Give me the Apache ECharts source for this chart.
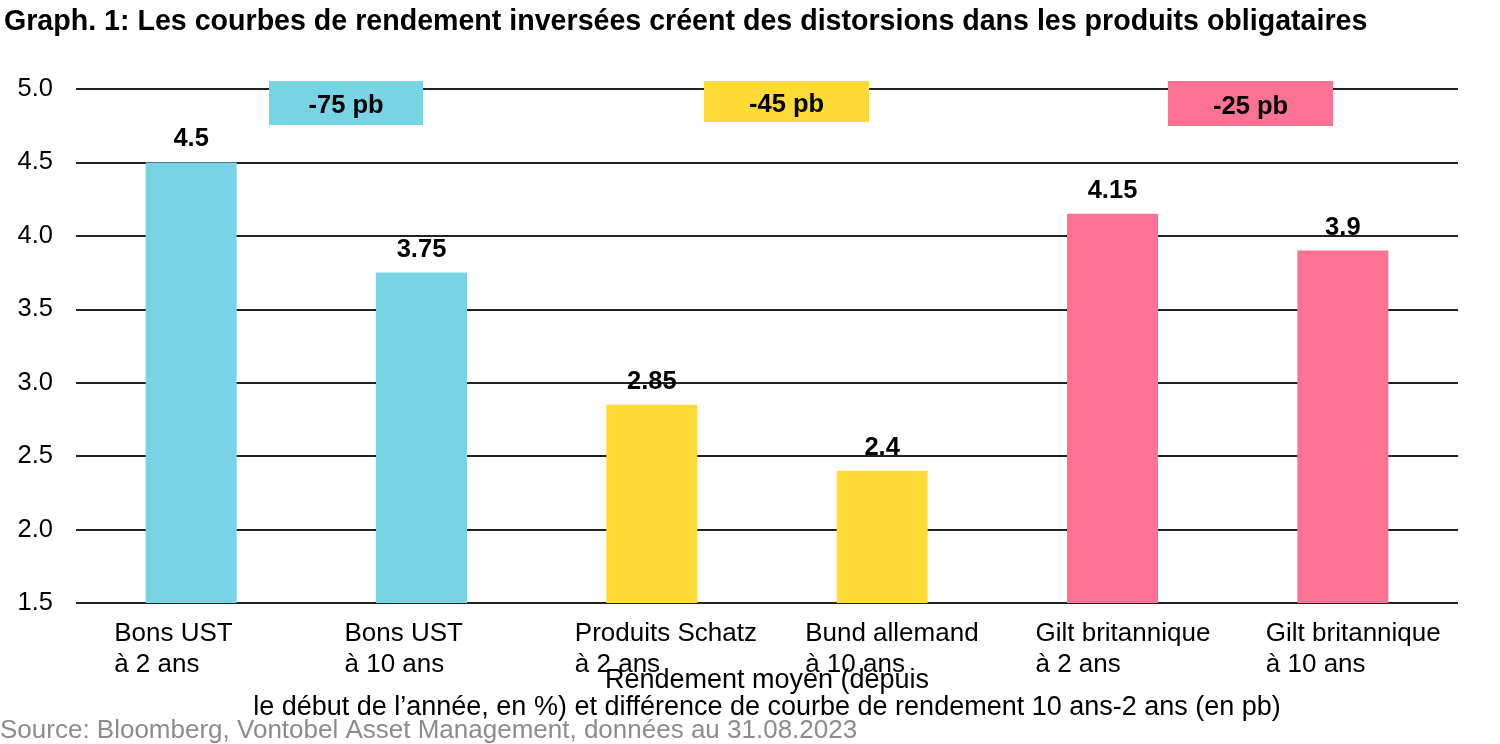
<!DOCTYPE html>
<html><head><meta charset="utf-8">
<script src="https://cdn.jsdelivr.net/npm/echarts@6/dist/echarts.min.js"></script>
<style>html,body{margin:0;padding:0;background:#fff}#c{width:1500px;height:744px}</style>
</head><body><div id="c"></div>
<script>
const categories = ["Bons UST\nà 2 ans","Bons UST\nà 10 ans","Produits Schatz\nà 2 ans","Bund allemand\nà 10 ans","Gilt britannique\nà 2 ans","Gilt britannique\nà 10 ans"];
const values = [4.5, 3.75, 2.85, 2.4, 4.15, 3.9];
const barColors = ["#78D3E5","#78D3E5","#FDDA36","#FDDA36","#FC7293","#FC7293"];
const spreadLabels = ["-75 pb","-45 pb","-25 pb"];
const spreadColors = ["#78D3E5","#FDDA36","#FC7293"];
const yTicks = [1.5, 2.0, 2.5, 3.0, 3.5, 4.0, 4.5, 5.0];

const FONT = "Liberation Sans, Arial, sans-serif";
const chart = echarts.init(document.getElementById('c'));

const boxes = [
  {x:269, y:81, w:154, h:44},
  {x:704, y:81, w:165, h:41},
  {x:1168, y:81, w:165, h:45}
];
const graphic = [];
boxes.forEach((b,i)=>{
  graphic.push({type:'rect', left:b.x, top:b.y, shape:{width:b.w, height:b.h}, style:{fill:spreadColors[i]}, z:10});
  graphic.push({type:'text', x:b.x+b.w/2, y:b.y+b.h/2+3, style:{text:spreadLabels[i], font:'bold 25.5px '+FONT, fill:'#000', textAlign:'center', textVerticalAlign:'middle'}, z:11});
});

chart.setOption({
  animation:false,
  textStyle:{fontFamily:FONT},
  title:[
    {text:"Graph. 1: Les courbes de rendement inversées créent des distorsions dans les produits obligataires", left:4, top:8, padding:0,
     textStyle:{fontSize:28.6, fontWeight:'bold', color:'#000', fontFamily:FONT}},
    {text:"Source: Bloomberg, Vontobel Asset Management, données au 31.08.2023", left:0, top:718, padding:0,
     textStyle:{fontSize:26, fontWeight:'normal', color:'#8c8c8c', fontFamily:FONT}}
  ],
  grid:{left:76, right:42, top:89, bottom:141, containLabel:false},
  xAxis:{
    type:'category', data:categories,
    axisLine:{show:false}, axisTick:{show:false},
    axisLabel:{interval:0, margin:15, color:'#000', fontSize:26, align:'center',
      formatter:(v)=>v.split('\n').map(l=>'{a|'+l+'}').join('\n'),
      rich:{a:{width:154, align:'left', fontSize:26, lineHeight:31, color:'#000', fontFamily:FONT}}},
    name:"Rendement moyen (depuis\nle début de l’année, en %) et différence de courbe de rendement 10 ans-2 ans (en pb)",
    nameLocation:'middle', nameGap:64, nameMoveOverlap:false,
    nameTextStyle:{fontSize:27, color:'#000', lineHeight:27, align:'center', fontFamily:FONT}
  },
  yAxis:{
    type:'value', min:1.5, max:5.0, interval:0.5,
    axisLine:{show:false}, axisTick:{show:false},
    axisLabel:{margin:23, color:'#000', fontSize:25.5, formatter:(v)=>v.toFixed(1)},
    splitLine:{show:true, lineStyle:{color:'#222', width:2}}
  },
  series:[{
    type:'bar', barWidth:91,
    data: values.map((v,i)=>({value:v, itemStyle:{color:barColors[i]}})),
    label:{show:true, position:'top', distance:10, fontSize:25.5, fontWeight:'bold', color:'#000', fontFamily:FONT}
  }],
  graphic: graphic
});
</script></body></html>
